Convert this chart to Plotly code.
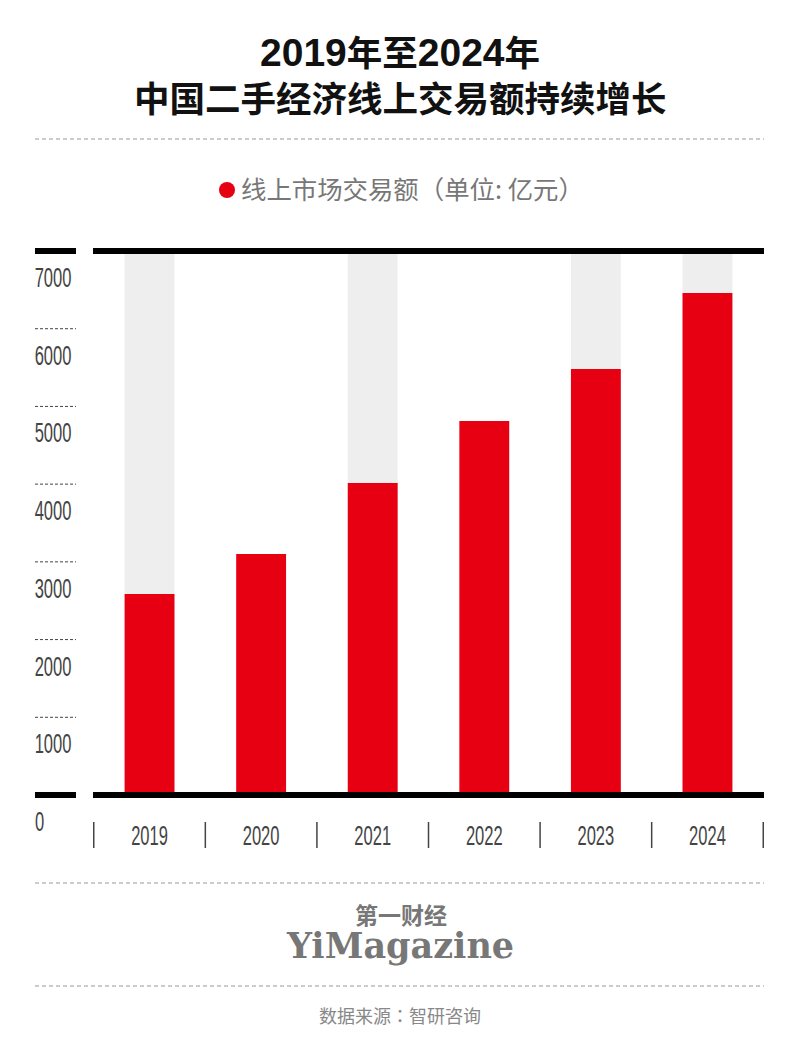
import plotly.graph_objects as go

years = ["2019", "2020", "2021", "2022", "2023", "2024"]
values = [2587, 3102, 4015, 4813, 5483, 6461]
backdrop = [7000, None, 7000, None, 7000, 7000]
y_ticks = [0, 1000, 2000, 3000, 4000, 5000, 6000, 7000]

RED = "#e60012"
W, H = 800, 1053
DIGITS = "Liberation Sans"
CJK = "Noto Sans CJK SC"
TITLE = "Liberation Sans, Noto Sans CJK SC"

def px(x):
    return x / W

def py(y):
    return 1 - y / H

fig = go.Figure()
fig.add_trace(go.Bar(x=years, y=backdrop, marker=dict(color="#eeeeee", line=dict(width=0)), width=0.447))
fig.add_trace(go.Bar(x=years, y=values, marker=dict(color=RED, line=dict(width=0)), width=0.447))

shapes = []
annotations = []

# heavy rules top and bottom, short dashes for the rest of the scale
for v in y_ticks:
    if v in (0, 7000):
        shapes.append(dict(type="line", xref="paper", yref="y", x0=px(35), x1=px(76), y0=v, y1=v,
                           line=dict(color="black", width=6)))
        shapes.append(dict(type="line", xref="paper", yref="y", x0=px(93), x1=px(764), y0=v, y1=v,
                           line=dict(color="black", width=6)))
    else:
        shapes.append(dict(type="line", xref="paper", yref="y", x0=px(35), x1=px(76), y0=v, y1=v,
                           line=dict(color="#444444", width=1, dash="3px,2px")))
    annotations.append(dict(text=str(v), xref="paper", yref="y", x=px(35 + 4.6 * len(str(v))), y=v, yshift=-27,
                            xanchor="center", yanchor="middle", showarrow=False,
                            font=dict(family=DIGITS, size=27, color="#444444")))

# separators between years
for i in range(len(years) + 1):
    shapes.append(dict(type="line", xref="x", yref="paper", x0=i - 0.5, x1=i - 0.5, y0=py(822), y1=py(848),
                       line=dict(color="#444444", width=1.5)))

# dashed page rules
for y in (139, 883, 986):
    shapes.append(dict(type="line", xref="paper", yref="paper", x0=px(35), x1=px(764), y0=py(y), y1=py(y),
                       line=dict(color="#999999", width=1.2, dash="4px,3px")))

# legend dot
shapes.append(dict(type="circle", xref="paper", yref="paper", x0=px(219), x1=px(235), y0=py(198), y1=py(182),
                   fillcolor=RED, line=dict(width=0)))

def label(text, x, y, size, color, family=CJK, anchor="center"):
    annotations.append(dict(text=text, xref="paper", yref="paper", x=px(x), y=py(y), xanchor=anchor,
                            yanchor="middle", showarrow=False, font=dict(family=family, size=size, color=color)))

# the years in the first title line are set larger than the hanzi
big = '<span style="font-size:39px">{}</span>'
label("<b>" + big.format("2019") + "年至" + big.format("2024") + "年</b>", 400, 52, 35.5, "#111111", family=TITLE)
label("<b>中国二手经济线上交易额持续增长</b>", 400, 100, 35.5, "#111111", family=TITLE)
label("线上市场交易额（单位: 亿元）", 239, 188, 25.4, "#777777", anchor="left")
label("<b>第一财经</b>", 401, 914, 23, "#777777")
label("<b>YiMagazine</b>", 400, 945, 35, "#777777", family="DejaVu Serif")
label("数据来源：智研咨询", 400, 1015, 18, "#888888", family="Noto Sans CJK TC")

# axis runs a little past 0 and 7000 so the heavy rules are not clipped
pad = 100
unit = (795 - 251) / 7000
fig.update_layout(
    width=W,
    height=H,
    margin=dict(l=0, r=0, t=0, b=0),
    barmode="overlay",
    showlegend=False,
    plot_bgcolor="rgba(0,0,0,0)",
    paper_bgcolor="white",
    shapes=shapes,
    annotations=annotations,
    xaxis=dict(domain=[px(93), px(764)], type="category", showgrid=False, zeroline=False, showline=False,
               ticks="", ticklabelstandoff=14, tickfont=dict(family=DIGITS, size=27, color="#444444")),
    yaxis=dict(domain=[py(795 + pad * unit), py(251 - pad * unit)], range=[-pad, 7000 + pad],
               showgrid=False, zeroline=False, showline=False, showticklabels=False, ticks=""),
)

# no condensed face is installed, so squeeze the number labels to their width in the picture
squeeze = """
document.body.style.margin = '0';
document.querySelectorAll('.annotation-text, .xtick text').forEach(function (t) {
    if (/^\\d+$/.test(t.textContent)) {
        t.setAttribute('textLength', 9.2 * t.textContent.length);
        t.setAttribute('lengthAdjust', 'spacingAndGlyphs');
    }
});
"""
fig.write_html("out.html", config=dict(displayModeBar=False), post_script=squeeze)
